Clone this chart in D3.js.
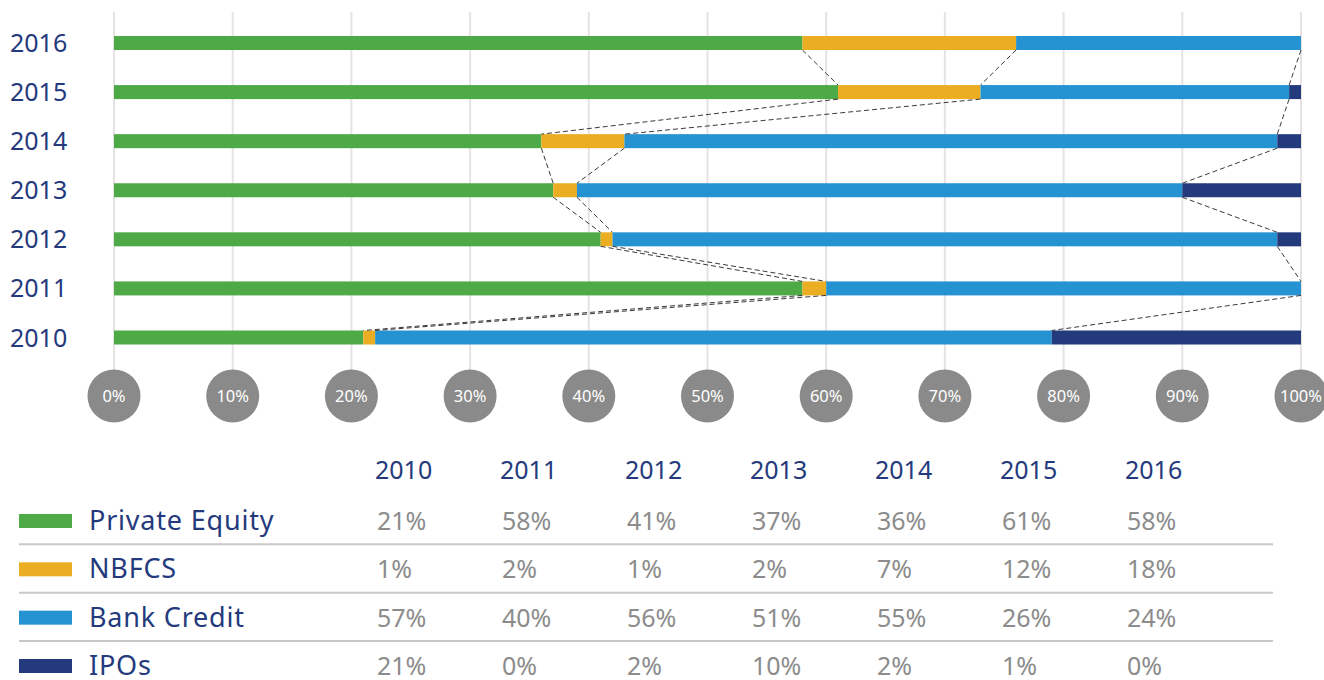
<!DOCTYPE html>
<html>
<head>
<meta charset="utf-8">
<script src="https://cdn.jsdelivr.net/npm/d3@7"></script>
<style>
  body { margin: 0; background: #fff; font-family: "Noto Sans", sans-serif; }
  svg { display: block; }
</style>
</head>
<body>
<svg id="chart" width="1324" height="680"></svg>
<script>
// data
const years = ["2010", "2011", "2012", "2013", "2014", "2015", "2016"];
const seriesNames = ["Private Equity", "NBFCS", "Bank Credit", "IPOs"];
const privateEquity = [21, 58, 41, 37, 36, 61, 58];
const nbfcs = [1, 2, 1, 2, 7, 12, 18];
const bankCredit = [57, 40, 56, 51, 55, 26, 24];
const ipos = [21, 0, 2, 10, 2, 1, 0];
const tickValues = [0, 10, 20, 30, 40, 50, 60, 70, 80, 90, 100];
const tickLabels = ["0%", "10%", "20%", "30%", "40%", "50%", "60%", "70%", "80%", "90%", "100%"];

const colors = ["#4daa47", "#ebad21", "#2592d1", "#233a7c"];
const navy = "#253a7d";
const grey = "#8c8c8c";

let svg = d3.select("#chart");

// build rows: one per year, stacked
let rows = years.map((y, i) => ({
  year: y,
  "Private Equity": privateEquity[i],
  "NBFCS": nbfcs[i],
  "Bank Credit": bankCredit[i],
  "IPOs": ipos[i]
}));
let stacked = d3.stack().keys(seriesNames)(rows);

let x = d3.scaleLinear().domain([0, 100]).range([114, 1301]);
let y = d3.scalePoint().domain(years.slice().reverse()).range([43, 337.5]);
let barH = 14;

// gridlines
svg.append("g").selectAll("line").data(tickValues).enter().append("line")
  .attr("x1", d => x(d)).attr("x2", d => x(d))
  .attr("y1", 12).attr("y2", 380)
  .attr("stroke", "#e7e2e4").attr("stroke-width", 2);

// bars
svg.append("g").selectAll("g").data(stacked).enter().append("g")
  .attr("fill", (d, i) => colors[i])
  .selectAll("rect").data(d => d).enter().append("rect")
  .attr("x", d => x(d[0]))
  .attr("width", d => x(d[1]) - x(d[0]))
  .attr("y", d => y(d.data.year) - barH / 2)
  .attr("height", barH);

// dashed connectors between boundaries of neighbouring bars
let ordered = years.slice().reverse();
let links = [];
for (let i = 0; i < ordered.length - 1; i++) {
  let up = years.indexOf(ordered[i]);
  let lo = years.indexOf(ordered[i + 1]);
  for (let k = 0; k < 3; k++) {
    links.push({ up: ordered[i], lo: ordered[i + 1], a: stacked[k][up][1], b: stacked[k][lo][1] });
  }
}
svg.append("g").selectAll("line").data(links).enter().append("line")
  .attr("x1", d => x(d.a)).attr("y1", d => y(d.up) + barH / 2)
  .attr("x2", d => x(d.b)).attr("y2", d => y(d.lo) - barH / 2)
  .attr("stroke", "#3a3a3a").attr("stroke-width", 1)
  .attr("stroke-dasharray", "5,3");

// year labels
svg.append("g").selectAll("text").data(years).enter().append("text")
  .attr("x", 10).attr("y", d => y(d) + 9)
  .attr("font-size", 25).attr("fill", navy)
  .text(d => d);

// circle ticks
let ticks = svg.append("g").selectAll("g").data(tickValues).enter().append("g")
  .attr("transform", d => `translate(${x(d)},396)`);
ticks.append("circle").attr("r", 26.5).attr("fill", "#8a8a8a");
ticks.append("text").attr("text-anchor", "middle").attr("dy", 6)
  .attr("font-size", 16.5).attr("fill", "#fff")
  .text((d, i) => tickLabels[i]);

// table
let colX = d3.scalePoint().domain(years).range([375, 1125]);
svg.append("g").selectAll("text").data(years).enter().append("text")
  .attr("x", d => colX(d)).attr("y", 479)
  .attr("font-size", 25).attr("fill", navy)
  .text(d => d);

let seriesValues = [privateEquity, nbfcs, bankCredit, ipos];
let rowY = d3.scalePoint().domain(seriesNames).range([530, 675]);

// separators
svg.append("g").selectAll("line").data(seriesNames.slice(1)).enter().append("line")
  .attr("x1", 19).attr("x2", 1273)
  .attr("y1", d => rowY(d) - 34).attr("y2", d => rowY(d) - 34)
  .attr("stroke", "#c8c8c8").attr("stroke-width", 2);

let tableRows = svg.append("g").selectAll("g").data(seriesNames).enter().append("g")
  .attr("transform", d => `translate(0,${rowY(d)})`);
tableRows.append("rect")
  .attr("x", 19).attr("y", -16).attr("width", 53).attr("height", 14)
  .attr("fill", (d, i) => colors[i]);
tableRows.append("text")
  .attr("x", 89).attr("font-size", 27).attr("letter-spacing", 0.8)
  .attr("fill", navy)
  .text(d => d);
tableRows.selectAll(".val").data((d, i) => seriesValues[i]).enter().append("text")
  .attr("class", "val")
  .attr("x", (d, j) => colX(years[j]) + 2)
  .attr("font-size", 25).attr("fill", grey)
  .text(d => d + "%");
</script>
</body>
</html>
